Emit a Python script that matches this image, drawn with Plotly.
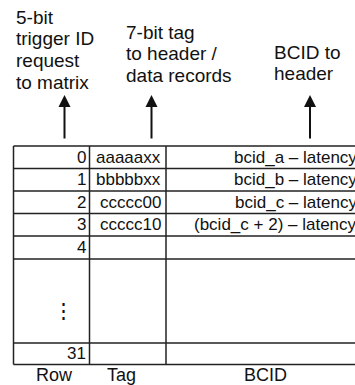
import plotly.graph_objects as go

# ---- data ----
row_labels = ["0", "1", "2", "3", "4", "⋮", "31"]
tag_values = ["aaaaaxx", "bbbbbxx", "ccccc00", "ccccc10", "", "", ""]
bcid_values = ["bcid_a – latency", "bcid_b – latency", "bcid_c – latency",
               "(bcid_c + 2) – latency", "", "", ""]
column_labels = ["Row", "Tag", "BCID"]
note_row = ["5-bit", "trigger ID", "request", "to matrix"]
note_tag = ["7-bit tag", "to header /", "data records"]
note_bcid = ["BCID to", "header"]

# ---- layout geometry (page pixels) ----
W, H = 364, 385
col_edges = [13.5, 89.5, 166, 364]
row_edges = [146, 168.5, 191, 213.5, 236, 259, 343, 364.5]
label_x = [54, 121, 265]
label_y = 375
note_x = [14, 124, 272]
note_y0 = [17, 32, 52]
note_dy = 21.7
arrow_x = [64.5, 151.5, 310]
arrow_top, arrow_bot = 95, 140
bcid_right = 359

FONT = "Liberation Sans, Arial, sans-serif"
LC = "#222222"

fig = go.Figure()
shapes = []
for y in row_edges:
    shapes.append(dict(type="line", xref="x", yref="y", x0=col_edges[0], x1=col_edges[-1],
                       y0=y, y1=y, line=dict(color=LC, width=1.5)))
for x in col_edges[:3]:
    shapes.append(dict(type="line", xref="x", yref="y", x0=x, x1=x,
                       y0=row_edges[0], y1=row_edges[-1], line=dict(color=LC, width=1.5)))

ann = []
def txt(x, y, s, size, xa="left"):
    ann.append(dict(x=x, y=y, xref="x", yref="y", text=s, showarrow=False,
                    xanchor=xa, yanchor="middle",
                    font=dict(family=FONT, size=size, color="#111111")))

for i in range(len(row_labels)):
    yc = (row_edges[i] + row_edges[i + 1]) / 2
    if row_labels[i] == "⋮":
        txt(63, yc + 9, row_labels[i], 21, "center")
    elif row_labels[i]:
        txt(col_edges[1] - 2, yc, row_labels[i], 17, "right")
    if tag_values[i]:
        txt(col_edges[2] - 3, yc, tag_values[i], 17, "right")
    if bcid_values[i]:
        txt(bcid_right, yc, bcid_values[i], 17, "right")

for lx, s in zip(label_x, column_labels):
    txt(lx, label_y, s, 18, "center")

for nx, ny, lines in zip(note_x, note_y0, [note_row, note_tag, note_bcid]):
    for k, s in enumerate(lines):
        txt(nx, ny + k * note_dy, s, 19, "left")

for ax_ in arrow_x:
    ann.append(dict(x=ax_, y=arrow_top, ax=ax_, ay=arrow_bot, xref="x", yref="y",
                    axref="x", ayref="y", text="", showarrow=True,
                    arrowhead=2, arrowsize=1.2, arrowwidth=2, arrowcolor="#111111"))

fig.update_layout(
    width=W, height=H, margin=dict(l=0, r=0, t=0, b=0),
    paper_bgcolor="white", plot_bgcolor="white",
    xaxis=dict(range=[0, W], visible=False, fixedrange=True),
    yaxis=dict(range=[H, 0], visible=False, fixedrange=True),
    shapes=shapes, annotations=ann, showlegend=False,
)
fig.write_html(
    "out.html", config={"displayModeBar": False},
    post_script="document.body.style.margin='0';document.body.style.overflow='hidden';",
)
